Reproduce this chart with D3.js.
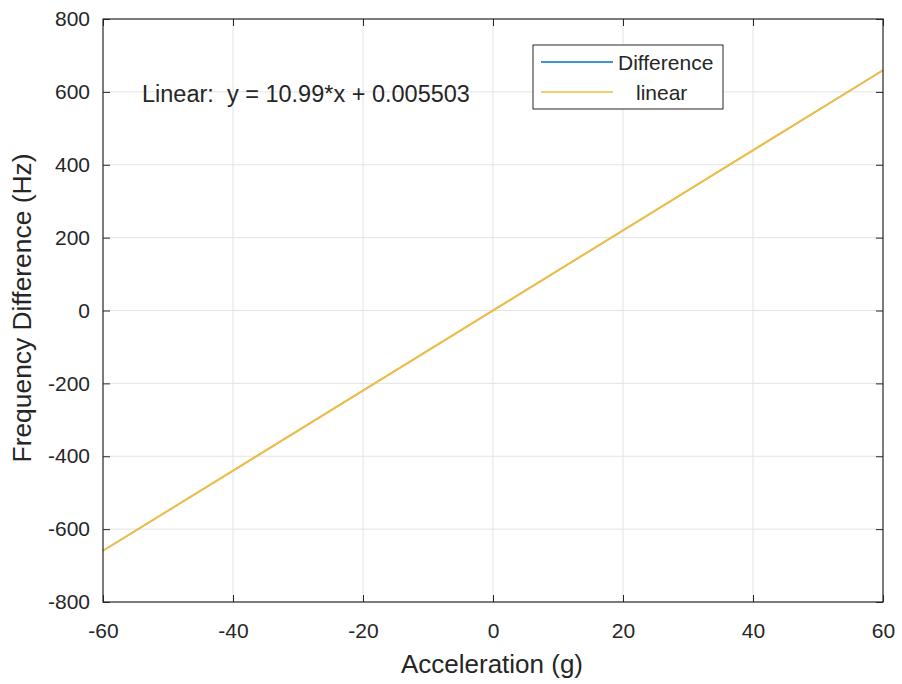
<!DOCTYPE html>
<html>
<head>
<meta charset="utf-8">
<script src="https://cdn.jsdelivr.net/npm/d3@7"></script>
<style>
  body { margin: 0; background: #fff; }
  text { font-family: "Liberation Sans", Arial, Helvetica, sans-serif; fill: #262626; }
</style>
</head>
<body>
<script>
// data
const accel = [-60, -40, -20, 0, 20, 40, 60]
const difference = [-659.4, -439.6, -219.8, 0, 219.8, 439.6, 659.4]
const fitX = [-60, 60]
const fitY = [-659.4, 659.4]
const xTicks = [-60, -40, -20, 0, 20, 40, 60]
const yTicks = [-800, -600, -400, -200, 0, 200, 400, 600, 800]
const seriesNames = ['Difference', 'linear']
const fitLabel = 'Linear:\u00a0\u00a0y = 10.99*x + 0.005503'

const width = 902
const height = 684
const margin = {top: 19, right: 19, bottom: 82, left: 103}
const plotW = width - margin.left - margin.right
const plotH = height - margin.top - margin.bottom

const svg = d3.select('body').append('svg')
  .attr('width', width)
  .attr('height', height)

const g = svg.append('g')
  .attr('transform', 'translate(' + margin.left + ',' + margin.top + ')')

const x = d3.scaleLinear().domain([-60, 60]).range([0, plotW])
const y = d3.scaleLinear().domain([-800, 800]).range([plotH, 0])

// grid
g.append('g').selectAll('line')
  .data(xTicks.slice(1, -1))
  .enter().append('line')
  .attr('x1', d => x(d)).attr('x2', d => x(d))
  .attr('y1', 0).attr('y2', plotH)
  .attr('stroke', '#e3e3e3').attr('stroke-width', 1)

g.append('g').selectAll('line')
  .data(yTicks.slice(1, -1))
  .enter().append('line')
  .attr('y1', d => y(d)).attr('y2', d => y(d))
  .attr('x1', 0).attr('x2', plotW)
  .attr('stroke', '#e3e3e3').attr('stroke-width', 1)

// lines
const line = d3.line()
  .x(d => x(d[0]))
  .y(d => y(d[1]))

g.append('path')
  .datum(d3.zip(accel, difference))
  .attr('fill', 'none')
  .attr('stroke', '#0072BD')
  .attr('stroke-width', 1.2)
  .attr('d', line)

g.append('path')
  .datum(d3.zip(fitX, fitY))
  .attr('fill', 'none')
  .attr('stroke', '#F0BE45')
  .attr('stroke-width', 2)
  .attr('d', line)

// axes (ticks point inward, box on all four sides)
const tickLen = 7
const fmt = d => String(d)
const styleAxis = sel => {
  sel.select('.domain').remove()
  sel.selectAll('line').attr('stroke', '#262626')
  sel.selectAll('text').style('font-size', '21px').attr('fill', '#333')
}

g.append('g')
  .attr('transform', 'translate(0,' + plotH + ')')
  .call(d3.axisBottom(x).tickValues(xTicks).tickFormat(fmt).tickSizeInner(-tickLen).tickPadding(21))
  .call(styleAxis)

g.append('g')
  .call(d3.axisTop(x).tickValues(xTicks).tickSizeInner(-tickLen).tickFormat(''))
  .call(styleAxis)

g.append('g')
  .call(d3.axisLeft(y).tickValues(yTicks).tickFormat(fmt).tickSizeInner(-tickLen).tickPadding(13))
  .call(styleAxis)

g.append('g')
  .attr('transform', 'translate(' + plotW + ',0)')
  .call(d3.axisRight(y).tickValues(yTicks).tickSizeInner(-tickLen).tickFormat(''))
  .call(styleAxis)

g.append('rect')
  .attr('x', 0).attr('y', 0)
  .attr('width', plotW).attr('height', plotH)
  .attr('fill', 'none')
  .attr('stroke', '#262626')
  .attr('stroke-width', 1.2)

// axis labels
svg.append('text')
  .attr('x', 492)
  .attr('y', 673)
  .attr('text-anchor', 'middle')
  .style('font-size', '26px')
  .attr('fill', '#333')
  .text('Acceleration (g)')

svg.append('text')
  .attr('transform', 'translate(31,308) rotate(-90)')
  .attr('text-anchor', 'middle')
  .style('font-size', '26.4px')
  .attr('fill', '#333')
  .text('Frequency Difference (Hz)')

// fit annotation
svg.append('text')
  .attr('x', 142)
  .attr('y', 102)
  .style('font-size', '23.5px')
  .attr('fill', '#111')
  .text(fitLabel)

// legend
const legend = g.append('g')
  .attr('transform', 'translate(' + (533 - margin.left) + ',' + (45 - margin.top) + ')')

legend.append('rect')
  .attr('width', 190).attr('height', 64)
  .attr('fill', '#fff')
  .attr('stroke', '#262626')
  .attr('stroke-width', 1)

const legendColors = ['#0072BD', '#F0BE45']
const legendTextX = [85, 103]
seriesNames.forEach((name, i) => {
  const ly = 17 + i * 30
  legend.append('line')
    .attr('x1', 8).attr('x2', 80)
    .attr('y1', ly).attr('y2', ly)
    .attr('stroke', legendColors[i])
    .attr('stroke-width', 1.5)
  legend.append('text')
    .attr('x', legendTextX[i])
    .attr('y', ly + 8)
    .style('font-size', '21px')
    .attr('fill', '#111')
    .text(name)
})
</script>
</body>
</html>
